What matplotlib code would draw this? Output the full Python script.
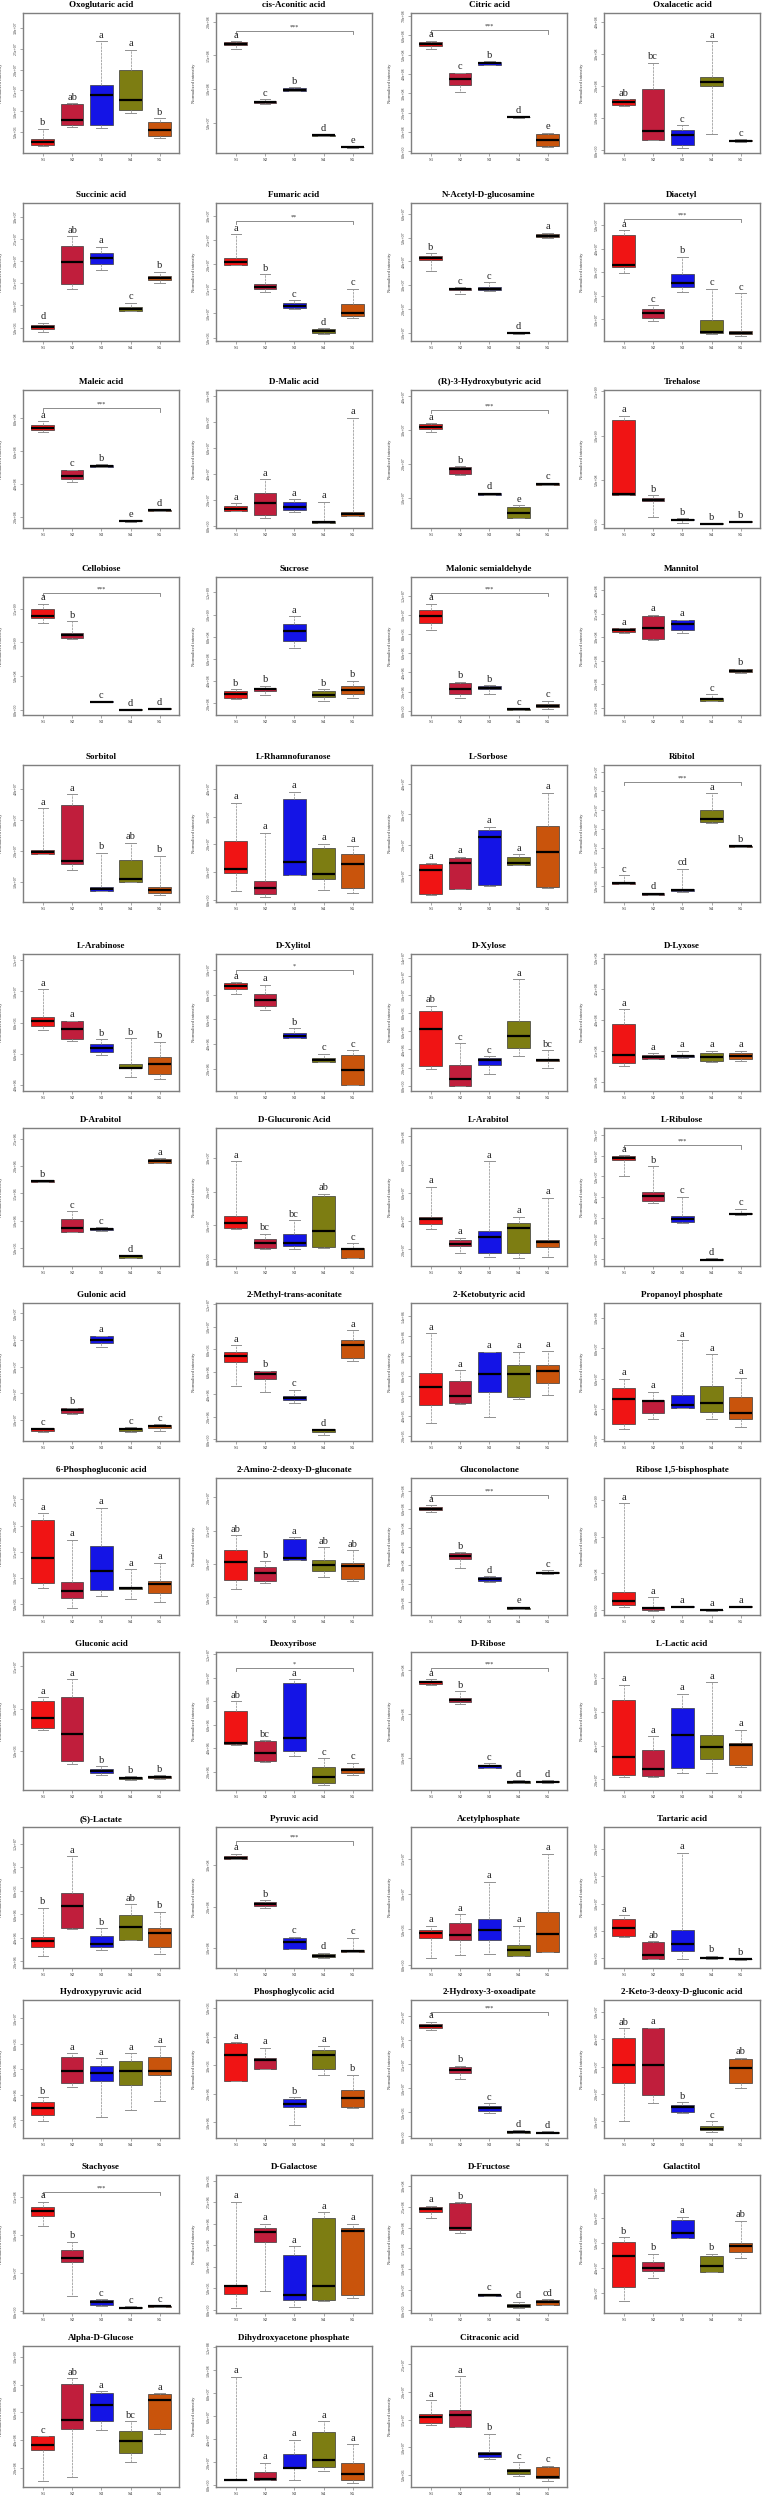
import numpy as np
import matplotlib
matplotlib.use('Agg')
import matplotlib.pyplot as plt

plt.rcParams['font.family'] = ['Liberation Serif', 'DejaVu Serif']

groups = ['S1', 'S2', 'S3', 'S4', 'S5']
group_colors = ['#f01414', '#c01e3c', '#1414e6', '#7d7d12', '#c9540c']

# every box: [lower whisker, Q1, median, Q3, upper whisker]  (axis units, 0-100 of the plotted range)
oxoglutaric_acid = [[4.8, 5.5, 7.6, 10, 17.4], [18.6, 19.8, 23.8, 35.2, 35.7], [18.1, 20.2, 41.7, 48.6, 80], [28.3, 31, 38.1, 59, 73.8], [10.7, 11.9, 16.7, 21.9, 25]]
cis_aconitic_acid = [[74.5, 76.9, 77.6, 79.3, 80], [35.1, 35.6, 36.1, 37, 38.5], [44.2, 44.5, 45.2, 46.2, 47.1], [12.3, 12.5, 12.7, 13, 13.2], [3.8, 4.1, 4.3, 4.4, 4.6]]
citric_acid = [[74.6, 76.6, 77.8, 79, 80.1], [43.8, 48.3, 52.6, 56.9, 57.4], [62.9, 63.2, 64.1, 65.3, 65.6], [25.1, 25.4, 25.6, 25.8, 26.1], [4.3, 4.8, 9.6, 13.6, 14.4]]
oxalacetic_acid = [[33.7, 34.1, 36.1, 38.5, 38.6], [9.1, 9.2, 15.6, 45.7, 64.4], [3.6, 5.5, 12.7, 16.3, 20], [13.9, 48.1, 50.5, 54.1, 80], [8.2, 8.4, 8.9, 9.6, 9.9]]
succinic_acid = [[6.8, 8.5, 9.9, 11.6, 13.3], [37.5, 41.6, 56.9, 69, 75.8], [51.6, 55.7, 59.8, 63.7, 68.3], [21.5, 22, 23.5, 24.9, 27.8], [41.9, 44.3, 45.8, 47.2, 50.1]]
fumaric_acid = [[55, 55.2, 57.4, 60.5, 77.5], [35.4, 37.5, 39.2, 41.6, 48.4], [23.5, 24.2, 25.7, 27.8, 29.5], [4.8, 6.1, 7.3, 8.5, 9.4], [16.9, 18.2, 20.6, 26.6, 37.8]]
n_acetyl_glucosamine = [[50.8, 58.6, 60.5, 61.7, 63.7], [33.9, 36.8, 37.5, 38.5, 39], [36.3, 36.6, 37.8, 39, 42.4], [5.3, 5.5, 5.8, 6.1, 6.3], [74.6, 75.1, 76, 77.2, 78.5]]
diacetyl = [[49.6, 53.3, 55, 77, 80.4], [14.5, 16.9, 20.6, 23, 25.9], [35.6, 39.2, 41.9, 48.4, 61], [5.3, 6.1, 6.8, 15, 38], [3.6, 4.8, 6.1, 7.5, 34.6]]
maleic_acid = [[69.8, 70.8, 72.7, 74.6, 77.5], [33.6, 35.3, 37.7, 42, 42.3], [44.2, 44.4, 44.9, 45.4, 46.1], [4.7, 5.1, 5.3, 5.6, 5.8], [12.3, 12.5, 12.8, 13, 13.3]]
d_malic_acid = [[12.3, 12.5, 13.8, 15.9, 17.8], [7, 9.4, 17.9, 25.6, 35.3], [11.4, 13, 15.4, 19.1, 21], [3.4, 3.9, 4.6, 5.3, 19.1], [8.7, 8.7, 10.5, 11.8, 79.9]]
hydroxybutyric_acid = [[69.8, 71.5, 73.2, 75.1, 75.8], [38.2, 38.9, 42.5, 44.4, 44.9], [23.7, 23.9, 24.4, 25.1, 25.6], [7, 7.5, 10.9, 15.4, 16.7], [30.9, 31.2, 31.9, 32.4, 32.8]]
trehalose = [[23.7, 23.9, 24.5, 78.1, 81.5], [8, 19.5, 20.3, 21.4, 24], [3.9, 5.6, 6.1, 6.6, 7.3], [2.6, 2.9, 3.1, 3.4, 3.6], [4, 4.2, 4.4, 4.8, 5.1]]
cellobiose = [[67, 70.6, 71.6, 77.1, 80.7], [55.4, 55.9, 57.8, 59.5, 68], [9.2, 9.4, 9.6, 9.9, 10.1], [3.6, 3.7, 3.9, 4.1, 4.2], [4.1, 4.3, 4.6, 4.8, 5.1]]
sucrose = [[11.3, 12, 15.2, 17.3, 18.6], [14.5, 17.6, 18.8, 19.3, 21.2], [48.9, 53.5, 60.7, 65.8, 71.6], [10.4, 12.8, 14.5, 17.6, 18.8], [12, 15.2, 18.1, 21, 24.8]]
malonic_semialdehyde = [[61.9, 67, 71.6, 75.9, 80.7], [12.5, 15.2, 18.6, 23.4, 24.1], [15.2, 18.6, 19.8, 21.2, 21.7], [3.6, 3.9, 4.1, 4.3, 4.6], [4.1, 5.5, 6.7, 8, 10.4]]
mannitol = [[59.5, 60, 61.4, 62.7, 63.1], [54.7, 55.2, 62.7, 71.6, 72.8], [59.5, 61.9, 66.3, 68.7, 69.2], [9.9, 10.1, 11.3, 12, 14.9], [30.6, 31.1, 32, 33, 33.5]]
sorbitol = [[35, 35.3, 36.4, 37.9, 68.5], [23, 27.4, 29.9, 70.6, 78.9], [8, 8.2, 9.7, 10.9, 35.9], [14.5, 14.8, 17, 30.6, 43.2], [5.1, 6.3, 8.4, 11.1, 33.9]]
l_rhamnofuranose = [[8, 21.3, 24.3, 44.4, 72.5], [3.9, 5.5, 10.4, 15.3, 50.5], [19.4, 19.6, 29.1, 75, 80.6], [8.7, 16.5, 20.8, 39.3, 42.7], [6.8, 10.4, 27.9, 34.7, 41.2]]
l_sorbose = [[4.8, 5.5, 23, 27.4, 28.6], [9.7, 9.8, 28.6, 31.8, 33], [11.7, 12.4, 47.6, 52.7, 55], [26.9, 27, 28.6, 33, 34.7], [10.4, 10.9, 36.6, 55.6, 79.8]]
ribitol = [[12.8, 13.3, 14.1, 14.6, 19.7], [4.8, 5.3, 5.8, 6.3, 6.8], [7.3, 7.7, 8.7, 9.2, 24.3], [57.5, 58.3, 60.4, 67.2, 79.4], [40.3, 40.5, 40.8, 41, 41.5]]
l_arabinose = [[44.5, 47.4, 51.3, 54.3, 74.5], [36.5, 38, 45, 51.1, 51.3], [26.3, 28.7, 31.1, 34.1, 37.7], [10.5, 16.5, 17, 19.5, 38.4], [8.8, 12.2, 19.7, 24.6, 36]]
d_xylitol = [[71.1, 74.5, 76.4, 78.8, 79.5], [59, 62.4, 66.3, 71.1, 77.6], [38.6, 38.7, 40.2, 42.2, 45.8], [21, 21.4, 22.7, 24.1, 27.2], [4.1, 4.2, 15.4, 26.3, 29.9]]
d_xylose = [[16.3, 18, 45.4, 58.7, 62.4], [3.6, 3.7, 9, 18.7, 35], [12.6, 19.2, 22.3, 24, 25.2], [25.5, 31.3, 40.5, 51, 81.8], [16.7, 21.6, 22.6, 23.5, 29.6]]
d_lyxose = [[18.4, 20.6, 26.2, 49.2, 59.6], [23, 23.7, 24.9, 26.6, 27.4], [24.2, 24.5, 25.4, 26.4, 29.3], [21.3, 21.8, 24.9, 27.4, 29.3], [21.8, 23.5, 25.7, 27.4, 29.3]]
d_arabitol = [[60.9, 61.2, 61.6, 62, 62.3], [24.6, 24.7, 27.8, 34.3, 39.9], [25.7, 26.1, 26.8, 27.5, 28.3], [5.8, 6, 6.9, 7.7, 8], [74.5, 74.9, 76.3, 77.8, 78.3]]
d_glucuronic_acid = [[27, 27.3, 30.9, 36.2, 75.9], [12.1, 13.3, 16.9, 19.3, 23.4], [12.1, 14.7, 16.9, 23.4, 33.3], [13.3, 13.8, 25.4, 50.4, 52.4], [5.6, 6, 12.1, 13.3, 16.7]]
l_arabitol = [[27, 30.2, 34.3, 35.7, 57.5], [9.2, 14.5, 16.2, 18.6, 20.5], [6.7, 9.2, 21.2, 25.4, 75.9], [6, 9.6, 27.3, 30.9, 35.7], [6.7, 14, 17.4, 18.8, 49.5]]
l_ribulose = [[65.2, 76.6, 78, 79.5, 80.4], [45.7, 47.1, 50.7, 53.6, 72.5], [31.2, 31.9, 33.8, 36.2, 50.2], [4, 4.1, 4.7, 5.3, 5.8], [37.3, 37.5, 38, 38.6, 41.5]]
gulonic_acid = [[6.7, 7.2, 8.4, 9.4, 9.5], [19.8, 20.5, 22.2, 23.6, 24.1], [68, 71.1, 73.5, 75.9, 76.4], [6.7, 7.2, 8.4, 9.4, 9.9], [7.2, 9.4, 10.8, 11.8, 12]]
methyl_trans_aconitate = [[39.8, 57.1, 61.4, 64.3, 69.4], [35.4, 44.6, 48.9, 50.8, 51], [27.2, 29.4, 30.8, 32.5, 37.3], [4.1, 6.7, 7.7, 8.4, 8.5], [58.1, 60.5, 69.4, 73.5, 80.2]]
ketobutyric_acid = [[13.3, 26, 39, 49.4, 78.3], [26.5, 27.7, 32.5, 43.4, 51.3], [17.6, 35.4, 48.2, 64.6, 64.7], [30.1, 32, 48.2, 55.4, 64.6], [33, 42.2, 50.6, 55.4, 65.5]]
propanoyl_phosphate = [[8.9, 12.5, 30.6, 38.6, 45.1], [15.7, 20.5, 28.9, 29.6, 35.7], [23.9, 24.1, 25.8, 33.3, 73], [16.1, 21, 27.2, 39.8, 63.1], [10.4, 15.7, 20, 31.8, 45.8]]
phosphogluconic_acid = [[19.4, 23.5, 41.3, 69.7, 74.5], [4.9, 12.1, 17.7, 24.3, 55.1], [13.8, 18.2, 32.3, 50.3, 78.4], [11.4, 19.2, 19.7, 20.2, 33.3], [9.2, 15.8, 22.6, 25, 38.1]]
amino_deoxy_gluconate = [[18.7, 25.5, 38.8, 47.3, 58.3], [23.1, 25, 30.8, 35.2, 39.5], [40.1, 40.2, 41.7, 55.4, 57], [27.9, 32.3, 36.4, 40.1, 49.7], [25, 26, 35.7, 38.1, 47.3]]
gluconolactone = [[75.2, 76.5, 77.7, 78.9, 80.1], [34, 40.8, 43, 44.9, 45.7], [24.3, 25, 26, 27.5, 28.4], [4.4, 4.6, 4.9, 5.3, 6], [30.1, 30.3, 30.8, 31.3, 32.8]]
ribose_bisphosphate = [[6, 7.1, 10.2, 17, 81.4], [3.1, 3.6, 4.9, 6, 12.9], [5.6, 5.8, 6, 6.3, 6.6], [3.1, 3.3, 3.6, 3.9, 4.1], [5.6, 5.8, 6, 6.3, 6.6]]
gluconic_acid = [[43.6, 44.8, 52.1, 64.6, 67.3], [18.9, 21.3, 40.7, 67.3, 80.4], [10.9, 12.1, 13.8, 15.3, 17.4], [7.3, 7.7, 8.7, 9.7, 10.2], [8.2, 9, 9.7, 10.2, 10.7]]
deoxyribose = [[32.9, 33.4, 34.4, 56.9, 64.4], [20.6, 20.7, 26.6, 35.8, 35.9], [24.7, 28.3, 37.5, 77.5, 80.4], [3.9, 4.8, 9.2, 17, 23], [10.7, 12.6, 14.5, 16.2, 19.9]]
d_ribose = [[76.3, 77, 78, 78.7, 80.4], [62.5, 63.7, 65.4, 66.6, 71.4], [15.7, 16.2, 17.2, 18.2, 19.4], [4.8, 5.3, 6.1, 6.8, 7.3], [5.3, 5.6, 6.1, 6.5, 7]]
l_lactic_acid = [[9.7, 10.9, 24.2, 65.4, 76.3], [9.7, 9.8, 15.3, 29.1, 39.2], [12.6, 16.2, 39.5, 59.3, 69.7], [12.6, 22.3, 30.8, 39.5, 78], [16.9, 18.2, 32.7, 33.9, 43.6]]
s_lactate = [[8.8, 14.7, 19.5, 21.9, 42.9], [27.4, 28.1, 44, 53.1, 79.3], [12.9, 14.7, 17.1, 22.6, 28.1], [19.6, 19.7, 29, 37.6, 45.2], [10, 14.7, 24.7, 28.6, 40]]
pyruvic_acid = [[77, 77.1, 78.1, 79.3, 81.2], [42.4, 44.2, 45.2, 46.6, 48.2], [13.6, 13.7, 18.4, 21.6, 22.3], [7.1, 7.8, 8.7, 9.9, 10.8], [11, 11.3, 12.2, 13.1, 21.6]]
acetylphosphate = [[7.1, 21.2, 24.7, 27, 30.1], [9.4, 20, 23.5, 32.2, 38.1], [10.1, 20, 26.8, 34.6, 61.2], [8.2, 8.7, 12.9, 16.5, 29.9], [11.3, 11.4, 24, 39.5, 81.2]]
tartaric_acid = [[22.3, 22.4, 28.7, 34.8, 37.6], [6.4, 6.5, 9.4, 18.4, 18.8], [6.4, 12.2, 17, 27, 81.9], [6.4, 6.8, 7.1, 7.5, 8.7], [6, 6.2, 6.4, 6.7, 7]]
hydroxypyruvic_acid = [[12.5, 16.4, 21.7, 26, 29.4], [37.3, 39.8, 48.7, 59, 61.4], [15.2, 41.4, 47, 52.3, 57.8], [20.5, 38.1, 48.2, 55.9, 61.4], [26.5, 45.8, 48.2, 58.6, 66.7]]
phosphoglycolic_acid = [[41, 41.1, 60.2, 68.7, 69.4], [50.1, 50.2, 56.6, 58.3, 65.5], [9.6, 22.2, 24.6, 28.4, 29.4], [45.8, 50.1, 60.2, 63.9, 67], [21.7, 22.2, 28.9, 34.9, 45.8]]
hydroxy_oxoadipate = [[78.3, 80, 81.4, 82.4, 84.3], [42.9, 47, 49.4, 51.1, 52.5], [18.1, 19.3, 21.7, 22.9, 25.3], [3.6, 3.7, 4.3, 4.8, 5.5], [3.4, 3.5, 3.9, 4.3, 4.8]]
keto_deoxy_gluconic_acid = [[12, 39.8, 53, 72.3, 79.5], [25.3, 31.3, 53, 79.5, 80], [18.1, 18.8, 22.2, 24.1, 25.8], [4.1, 5.5, 6.7, 8.4, 12], [36.1, 40.2, 50.6, 57.1, 58.3]]
stachyose = [[63.1, 70.4, 74, 76.6, 80.7], [12, 36.9, 40.2, 45.8, 51.8], [5.3, 5.8, 7.7, 9.6, 10.1], [3.4, 3.6, 3.9, 4.3, 4.8], [4.1, 4.3, 4.8, 5.3, 5.8]]
d_galactose = [[3.6, 14, 19.8, 20.5, 80.7], [15.7, 51.8, 59, 61.9, 64.6], [4.3, 9.6, 13.3, 42.2, 48.2], [8.4, 9.2, 19.3, 68.7, 73], [10.6, 13.3, 59.5, 61.4, 64.6]]
d_fructose = [[68.7, 73.5, 75.2, 77.1, 77.8], [58.3, 60.2, 61.9, 80, 80.1], [12, 12.1, 12.8, 13.3, 14], [3.6, 4.1, 5.3, 6.7, 8.2], [6, 6.1, 7.7, 9.2, 10.1]]
galactitol = [[8.9, 18.8, 41.4, 51.8, 54.9], [25.3, 30.6, 32.5, 37.3, 42.9], [54.2, 54.3, 57.8, 67.5, 69.9], [29.4, 29.5, 33.7, 41, 42.9], [40.2, 43.9, 48.2, 50.6, 67]]
alpha_d_glucose = [[4.3, 26.1, 29.6, 36, 36.1], [7.1, 40.8, 47.4, 72.7, 77], [40.3, 46.9, 58.5, 66.4, 68], [17.8, 24.2, 32.7, 39.6, 46.7], [37.4, 40.8, 61.6, 65.9, 66.4]]
dihydroxyacetone_phosphate = [[5, 5.1, 5.2, 5.3, 78.2], [5.2, 5.3, 5.5, 10.7, 17.1], [5.2, 13.5, 13.6, 23.2, 33.6], [11.1, 14.2, 19, 39.1, 46.7], [2.8, 5.2, 9.5, 17.1, 30.3]]
citraconic_acid = [[43.9, 45.1, 49.3, 52, 61.5], [42.2, 42.3, 51.2, 54.4, 78.5], [20, 21.5, 23.2, 24.9, 37.8], [7.8, 9, 11, 12.7, 17.6], [4.4, 6.1, 7.3, 14.1, 15.1]]

titles = ['Oxoglutaric acid', 'cis-Aconitic acid', 'Citric acid', 'Oxalacetic acid',
          'Succinic acid', 'Fumaric acid', 'N-Acetyl-D-glucosamine', 'Diacetyl',
          'Maleic acid', 'D-Malic acid', '(R)-3-Hydroxybutyric acid', 'Trehalose',
          'Cellobiose', 'Sucrose', 'Malonic semialdehyde', 'Mannitol',
          'Sorbitol', 'L-Rhamnofuranose', 'L-Sorbose', 'Ribitol',
          'L-Arabinose', 'D-Xylitol', 'D-Xylose', 'D-Lyxose',
          'D-Arabitol', 'D-Glucuronic Acid', 'L-Arabitol', 'L-Ribulose',
          'Gulonic acid', '2-Methyl-trans-aconitate', '2-Ketobutyric acid', 'Propanoyl phosphate',
          '6-Phosphogluconic acid', '2-Amino-2-deoxy-D-gluconate', 'Gluconolactone', 'Ribose 1,5-bisphosphate',
          'Gluconic acid', 'Deoxyribose', 'D-Ribose', 'L-Lactic acid',
          '(S)-Lactate', 'Pyruvic acid', 'Acetylphosphate', 'Tartaric acid',
          'Hydroxypyruvic acid', 'Phosphoglycolic acid', '2-Hydroxy-3-oxoadipate', '2-Keto-3-deoxy-D-gluconic acid',
          'Stachyose', 'D-Galactose', 'D-Fructose', 'Galactitol',
          'Alpha-D-Glucose', 'Dihydroxyacetone phosphate', 'Citraconic acid']

boxes = [oxoglutaric_acid, cis_aconitic_acid, citric_acid, oxalacetic_acid,
         succinic_acid, fumaric_acid, n_acetyl_glucosamine, diacetyl,
         maleic_acid, d_malic_acid, hydroxybutyric_acid, trehalose,
         cellobiose, sucrose, malonic_semialdehyde, mannitol,
         sorbitol, l_rhamnofuranose, l_sorbose, ribitol,
         l_arabinose, d_xylitol, d_xylose, d_lyxose,
         d_arabitol, d_glucuronic_acid, l_arabitol, l_ribulose,
         gulonic_acid, methyl_trans_aconitate, ketobutyric_acid, propanoyl_phosphate,
         phosphogluconic_acid, amino_deoxy_gluconate, gluconolactone, ribose_bisphosphate,
         gluconic_acid, deoxyribose, d_ribose, l_lactic_acid,
         s_lactate, pyruvic_acid, acetylphosphate, tartaric_acid,
         hydroxypyruvic_acid, phosphoglycolic_acid, hydroxy_oxoadipate, keto_deoxy_gluconic_acid,
         stachyose, d_galactose, d_fructose, galactitol,
         alpha_d_glucose, dihydroxyacetone_phosphate, citraconic_acid]

letters = ['b ab a a b', 'a c b d e', 'a c b d e', 'ab bc c a c',
           'd ab a c b', 'a b c d c', 'b c c d a', 'a c b c c',
           'a c b e d', 'a a a a a', 'a b d e c', 'a b b b b',
           'a b c d d', 'b b a b b', 'a b b c c', 'a a a c b',
           'a a b ab b', 'a a a a a', 'a a a a a', 'c d cd a b',
           'a a b b b', 'a a b c c', 'ab c c a bc', 'a a a a a',
           'b c c d a', 'a bc bc ab c', 'a a a a a', 'a b c d c',
           'c b a c c', 'a b c d a', 'a a a a a', 'a a a a a',
           'a a a a a', 'ab b a ab ab', 'a b d e c', 'a a a a a',
           'a a b b b', 'ab bc a c c', 'a b c d d', 'a a a a a',
           'b a b ab b', 'a b c d c', 'a a a a a', 'a ab a b b',
           'b a a a a', 'a a b a b', 'a b c d d', 'ab a b c ab',
           'a b c c c', 'a a a a a', 'a b c d cd', 'b b a b ab',
           'c ab a bc a', 'a a a a a', 'a a b c c']

# significance over all groups: panel index, bracket height, stars
sig_panels = [1, 2, 5, 7, 8, 10, 12, 14, 19, 21, 27, 34, 37, 38, 41, 46, 48]
sig_height = [87.3, 87.8, 87.2, 88.4, 86.7, 85.5, 88.4, 88.4, 87.8, 88.2, 87.5, 87.9, 88.4, 88.4, 90, 91.6, 88]
sig_stars = ['***', '***', '**', '***', '***', '***', '***', '***', '***', '*', '***', '***', '*', '***', '***', '***', '***']

# y tick marks: first tick, spacing (axis units); first label value, label step
tick_start = [15, 21.6, 1.2, 1.9, 9.7, 2.4, 6.1, 15.7, 8, 1.4, 22, 2.7, 3.6, 8.4, 3.1, 5.3,
              14.6, 1.8, 19.4, 12, 4.4, 16.1, 3.6, 6.5, 13.1, 5, 12, 5, 15.2, 1.2, 3.6, 1.2,
              8, 12.9, 9.2, 3.6, 28.3, 13.3, 23.5, 7.7, 4.7, 14.1, 2.3, 7.1, 12.8, 11.3, 1.2, 12,
              1.2, 2.4, 1.9, 14.5, 13.5, 1.2, 8.5]
tick_step = [14.85, 24.1, 13.8, 23, 16.1, 17.7, 17.2, 17.1, 23.8, 18.9, 24.5, 32.1, 24.5, 16.1, 13.9, 17,
             22.6, 20.2, 22.3, 13.8, 22.8, 18.1, 13.35, 22.6, 19.8, 24.4, 20.5, 15, 19.3, 16.3, 14.46, 22,
             19.1, 24.3, 13.6, 26.7, 30.6, 17, 31.8, 24.5, 16.7, 29.4, 25.1, 19.3, 18.5, 20.7, 17.4, 19.9,
             27.7, 15.6, 15, 18.1, 19.7, 16.3, 19.6]
label_start = [5e6, 5e7, 0, 0, 5e6, 5e6, 1e7, 1e7, 2e8, 0, 1e7, 0, 0, 2e8, 0, 1.5e8,
               1e7, 0, 1e7, 5e6, 4e6, 2e6, 0, 3e8, 5e5, 0, 2e7, 1e7, 1e7, 0, 2e5, 2e7,
               5e6, 5e6, 1e8, 0, 5e6, 2e6, 1e8, 2e7, 2e6, 1e8, 0, 0, 2e6, 1e6, 0, 1e7,
               0, 0, 0, 3e7, 2e8, 0, 5e6]
label_step = [5e6, 5e7, 1e8, 1e8, 5e6, 5e6, 1e7, 1e7, 2e8, 2e7, 1e7, 5e8, 5e8, 2e8, 2e6, 5e7,
              1e7, 1e7, 1e7, 5e6, 2e6, 2e6, 2e6, 5e7, 5e5, 1e7, 2e7, 1e7, 1e7, 2e6, 2e5, 2e7,
              5e6, 5e6, 1e8, 5e8, 5e6, 2e6, 1e8, 2e7, 2e6, 1e8, 5e6, 5e6, 2e6, 1e6, 5e6, 1e7,
              5e7, 5e5, 5e7, 1e7, 2e8, 2e7, 5e6]

W, H = 762, 2500
col_left = [23, 216, 411, 604]
panel_w = 156
row_top = [13, 203, 390, 577, 765, 954, 1128, 1303, 1478, 1652, 1827, 2000, 2175, 2346]
row_bottom = [153, 341, 528, 715, 902, 1091, 1266, 1441, 1615, 1790, 1968, 2138, 2313, 2487]

fig = plt.figure(figsize=(W / 100, H / 100), dpi=100)
positions = np.arange(1, 6)

for i, name in enumerate(titles):
    r, c = i // 4, i % 4
    rect = [col_left[c] / W, 1 - row_bottom[r] / H, panel_w / W, (row_bottom[r] - row_top[r]) / H]
    ax = fig.add_axes(rect)

    stats = []
    for g, b in enumerate(boxes[i]):
        stats.append({'whislo': b[0], 'q1': b[1], 'med': b[2], 'q3': b[3], 'whishi': b[4], 'label': groups[g]})
    bp = ax.bxp(stats, positions=positions, widths=0.78, capwidths=0.36, patch_artist=True,
                showfliers=False,
                boxprops=dict(edgecolor='#3a3a3a', linewidth=0.5),
                medianprops=dict(color='black', linewidth=1.6, solid_capstyle='butt'),
                whiskerprops=dict(color='#a0a0a0', linewidth=0.6, linestyle=(0, (3, 1))),
                capprops=dict(color='#909090', linewidth=0.7))
    for patch, col in zip(bp['boxes'], group_colors):
        patch.set_facecolor(col)

    # group letters above the upper whiskers
    for g, lab in enumerate(letters[i].split()):
        ax.text(positions[g], boxes[i][g][4] + 1.0, lab, ha='center', va='bottom',
                fontsize=7.5, color='#222222')

    if i in sig_panels:
        k = sig_panels.index(i)
        y = sig_height[k]
        ax.plot([1, 1, 5, 5], [y - 2.5, y, y, y - 2.5], color='#7a7a7a', lw=0.6)
        ax.text(3, y + 1.0, sig_stars[k], ha='center', va='bottom', fontsize=4.5, color='#333333')

    ax.set_xlim(0.32, 5.66)
    ax.set_ylim(0, 100)
    ax.set_xticks(positions)
    ax.set_xticklabels(groups, fontsize=3.5)
    yt = np.arange(tick_start[i], 99.5, tick_step[i])
    ax.set_yticks(yt)
    ax.set_yticklabels([f'{label_start[i] + n * label_step[i]:.1e}' for n in range(len(yt))],
                       fontsize=2.8, rotation=90, va='center')
    ax.tick_params(axis='both', length=2, width=0.4, color='#666666', pad=1.5, labelcolor='#333333')
    for s in ax.spines.values():
        s.set_color('#7f7f7f')
        s.set_linewidth(1.0)
    ax.set_ylabel('Normalized intensity', fontsize=3.3, color='#333333')
    ax.yaxis.set_label_coords(-0.125, 0.5)
    ax.set_title(name, fontsize=6.5, fontweight='bold', pad=4)

fig.savefig('out.png', dpi=100)
